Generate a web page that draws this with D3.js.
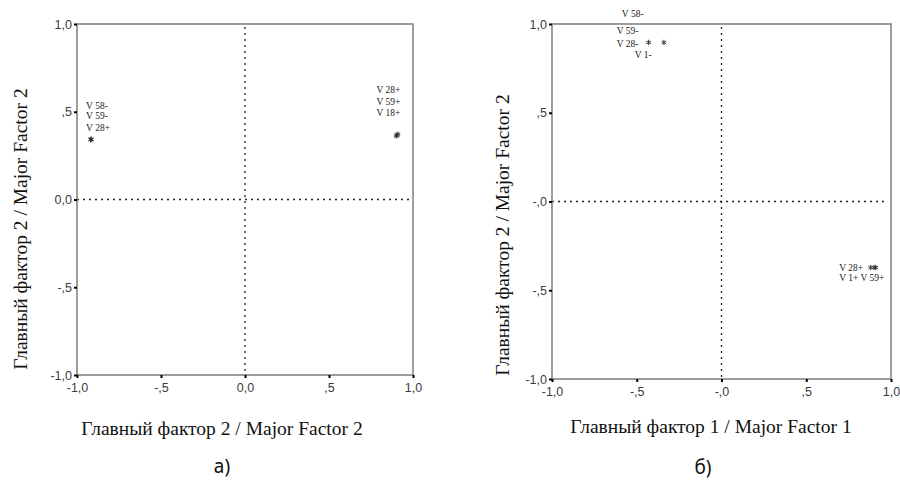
<!DOCTYPE html>
<html>
<head>
<meta charset="utf-8">
<script src="https://cdn.jsdelivr.net/npm/d3@7"></script>
<style>
  body { margin: 0; background: #fff; }
  .tick text { font-family: "Liberation Sans", Arial, sans-serif; font-size: 12.5px; fill: #3c3c3c; }
  .lab { font-family: "Liberation Serif", "Times New Roman", serif; font-size: 9.5px; fill: #222; }
  .title { font-family: "Liberation Serif", "Times New Roman", serif; font-size: 19.5px; fill: #111; }
  .cap { font-family: "Noto Sans", "Open Sans", sans-serif; font-size: 19px; fill: #111; }
</style>
</head>
<body>
<script>
var width = 900, height = 482;

var tickValues = [-1, -0.5, 0, 0.5, 1];
var ticksA = ["-1,0", "-,5", "0,0", ",5", "1,0"];
var ticksBx = ["-1,0", "-,5", "-,0", ",5", "1,0"];
var ticksBy = ["-1,0", "-,5", "-,0", ",5", "1,0"];

// loadings, [factor x, factor y]
var pointsA = [[-0.917, 0.342], [-0.915, 0.344], [-0.918, 0.340],
               [0.900, 0.362], [0.910, 0.372], [0.905, 0.366]];
var pointsB = [[-0.43, 0.896], [-0.34, 0.896],
               [0.88, -0.372], [0.90, -0.372], [0.91, -0.372]];

// label text and where it sits, in the same units
var labelsA = [["V 58-", -0.946, 0.515], ["V 59-", -0.946, 0.458], ["V 28+", -0.946, 0.390],
               ["V 28+", 0.783, 0.604], ["V 59+", 0.783, 0.541], ["V 18+", 0.783, 0.473]];
var labelsB = [["V 58-", -0.588, 1.037], ["V 59-", -0.618, 0.946], ["V 28-", -0.618, 0.873], ["V 1-", -0.512, 0.811],
               ["V 28+", 0.694, -0.389], ["V 1+ V 59+", 0.694, -0.450]];

var svg = d3.select("body").append("svg")
    .attr("width", width)
    .attr("height", height);

function panel(cfg) {
  var x = d3.scaleLinear().domain([-1, 1]).range([cfg.left, cfg.right]);
  var y = d3.scaleLinear().domain([-1, 1]).range([cfg.bottom, cfg.top]);
  var g = svg.append("g");

  // dotted zero lines
  g.append("line")
      .attr("x1", x(0)).attr("x2", x(0))
      .attr("y1", cfg.top + 3).attr("y2", cfg.bottom)
      .attr("stroke", "#222").attr("stroke-width", 1.3)
      .attr("stroke-dasharray", "2,4");
  g.append("line")
      .attr("x1", cfg.left).attr("x2", cfg.right - 3)
      .attr("y1", y(0)).attr("y2", y(0))
      .attr("stroke", "#222").attr("stroke-width", 1.3)
      .attr("stroke-dasharray", "2,4");

  g.append("rect")
      .attr("x", cfg.left).attr("y", cfg.top)
      .attr("width", cfg.right - cfg.left).attr("height", cfg.bottom - cfg.top)
      .attr("fill", "none").attr("stroke", "#858585").attr("stroke-width", 1.6);

  var xAxis = g.append("g")
      .attr("transform", "translate(0," + cfg.bottom + ")")
      .call(d3.axisBottom(x).tickValues(tickValues).tickSize(3).tickPadding(cfg.xPad)
        .tickFormat((d, i) => cfg.xTicks[i]));
  xAxis.select(".domain").remove();
  xAxis.selectAll("line").attr("stroke", "#000").attr("stroke-width", 2);

  var yAxis = g.append("g")
      .attr("transform", "translate(" + cfg.left + ",0)")
      .call(d3.axisLeft(y).tickValues(tickValues).tickSize(3).tickPadding(2)
        .tickFormat((d, i) => cfg.yTicks[i]));
  yAxis.select(".domain").remove();
  yAxis.selectAll("line").attr("stroke", "#000").attr("stroke-width", 2);

  g.selectAll(".pt").data(cfg.points).enter().append("path")
      .attr("class", "pt")
      .attr("transform", d => "translate(" + x(d[0]) + "," + y(d[1]) + ")")
      .attr("d", d3.symbol().type(d3.symbolAsterisk).size(20))
      .attr("fill", "none").attr("stroke", "#333").attr("stroke-width", 1);

  g.selectAll(".lab").data(cfg.labels).enter().append("text")
      .attr("class", "lab")
      .attr("x", d => x(d[1]))
      .attr("y", d => y(d[2]))
      .text(d => d[0]);

  g.append("text")
      .attr("class", "title")
      .attr("text-anchor", "middle")
      .attr("x", cfg.xTitleX).attr("y", cfg.xTitleY)
      .text(cfg.xTitle);

  g.append("text")
      .attr("class", "title")
      .attr("text-anchor", "middle")
      .attr("transform", "translate(" + cfg.yTitleX + "," + cfg.yTitleY + ") rotate(-90)")
      .text(cfg.yTitle);

  g.append("text")
      .attr("class", "cap")
      .attr("text-anchor", "middle")
      .attr("x", cfg.capX).attr("y", cfg.capY)
      .text(cfg.caption);
}

panel({
  left: 77, right: 413, top: 24, bottom: 375, xPad: 5,
  xTicks: ticksA, yTicks: ticksA,
  points: pointsA, labels: labelsA,
  xTitle: "Главный фактор 2 / Major Factor 2", xTitleX: 222, xTitleY: 435,
  yTitle: "Главный фактор 2 / Major Factor 2", yTitleX: 27, yTitleY: 229,
  caption: "а)", capX: 222, capY: 473
});

panel({
  left: 552, right: 891, top: 24, bottom: 379, xPad: 5,
  xTicks: ticksBx, yTicks: ticksBy,
  points: pointsB, labels: labelsB,
  xTitle: "Главный фактор 1 / Major Factor 1", xTitleX: 711, xTitleY: 433,
  yTitle: "Главный фактор 2 / Major Factor 2", yTitleX: 509, yTitleY: 235,
  caption: "б)", capX: 703, capY: 474
});
</script>
</body>
</html>
